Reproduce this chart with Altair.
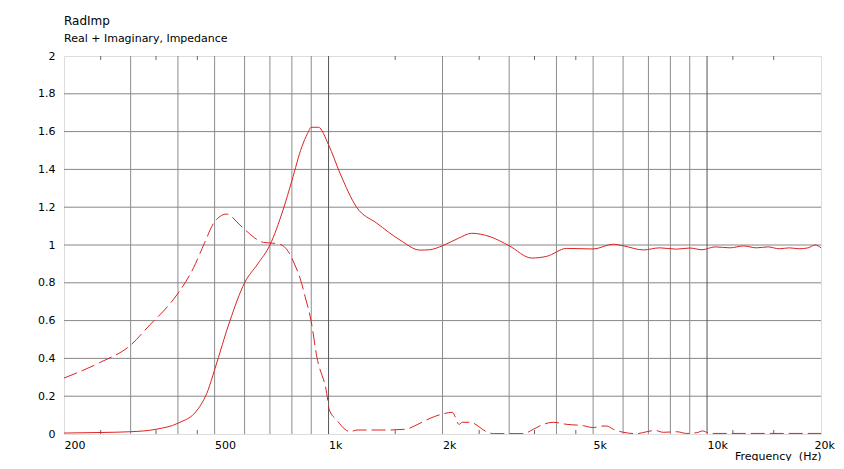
import altair as alt
import pandas as pd

# ---- data ----
real_freq = [200, 250, 300, 350, 400, 450, 480, 500, 549, 600, 650, 700, 758, 800, 850, 880,
             900, 940, 1000, 1072, 1186, 1340, 1545, 1744, 1850, 2000, 2200, 2388, 2671, 3000,
             3441, 3770, 4257, 5000, 5653, 6000, 6786, 7500, 8300, 9000, 9700, 10500, 11500,
             12500, 13500, 14500, 15500, 16500, 17500, 18500, 19300, 20000]
real_val = [0.005, 0.008, 0.012, 0.025, 0.057, 0.127, 0.23, 0.34, 0.60, 0.80, 0.90, 1.0, 1.185,
            1.34, 1.52, 1.59, 1.623, 1.623, 1.53, 1.38, 1.20, 1.116, 1.026, 0.973, 0.975, 0.996,
            1.035, 1.062, 1.044, 0.996, 0.931, 0.94, 0.982, 0.979, 1.004, 0.996, 0.974, 0.985,
            0.978, 0.984, 0.975, 0.99, 0.985, 0.995, 0.985, 0.99, 0.98, 0.985, 0.98, 0.985, 1.0,
            0.985]

imag_freq = [200, 250, 300, 337, 370, 400, 440, 470, 500, 538, 583, 610, 646, 673, 710, 744,
             783, 815, 841, 867, 900, 931, 989, 1005, 1051, 1105, 1139, 1189, 1400, 1592, 1744,
             1854, 2030, 2123, 2212, 2256, 2364, 2617, 2725, 3270, 3476, 3693, 3925, 4257, 4710,
             5000, 5268, 5433, 5653, 6010, 6520, 6928, 7284, 7664, 8311, 8833, 9390, 9738, 10180,
             20000]
imag_val = [0.296, 0.38, 0.47, 0.577, 0.66, 0.744, 0.88, 1.01, 1.123, 1.164, 1.106, 1.07, 1.03,
            1.014, 1.01, 1.004, 0.965, 0.894, 0.824, 0.727, 0.594, 0.409, 0.215, 0.127, 0.074,
            0.025, 0.012, 0.021, 0.021, 0.025, 0.057, 0.083, 0.109, 0.115, 0.051, 0.062, 0.062,
            0.012, 0.002, 0.002, 0.025, 0.051, 0.062, 0.051, 0.044, 0.034, 0.042, 0.042, 0.025,
            0.009, 0.002, 0.012, 0.019, 0.009, 0.012, 0.003, 0.007, 0.016, 0.003, 0.003]

x_labels = [200, 500, 1000, 2000, 5000, 10000, 20000]
y_ticks = [0, 0.2, 0.4, 0.6, 0.8, 1, 1.2, 1.4, 1.6, 1.8, 2]
grid_light = [300, 400, 500, 600, 700, 800, 900, 2000, 3000, 4000, 5000, 6000, 7000, 8000, 9000]
grid_dark = [1000, 10000]
grid_y = [0.2, 0.4, 0.6, 0.8, 1.0, 1.2, 1.4, 1.6, 1.8]
minor_ticks = [250, 350, 450, 1500, 2500, 3500, 4500, 11700, 15000]

FONT = "DejaVu Sans"
W, H = 757, 378
RED = "#dc2323"

xscale = alt.Scale(type="log", domain=[200, 20000], nice=False)
yscale = alt.Scale(domain=[0, 2], nice=False)

xaxis = alt.Axis(values=x_labels, grid=False, ticks=False, domain=False,
                 labelExpr="datum.value >= 1000 ? (datum.value/1000) + 'k' : '' + datum.value",
                 labelAlign="left", labelBaseline="top", labelPadding=5, labelFlush=False,
                 labelOffset={"condition": {"test": "datum.value >= 20000", "value": -7}, "value": 0},
                 labelOverlap=False, labelFont=FONT, labelFontSize=11, labelColor="#000000",
                 title="Frequency \u00a0(Hz)", titleFont=FONT, titleFontSize=11,
                 titleFontWeight="normal", titleColor="#000000", titleAnchor="end",
                 titleAlign="right", titleBaseline="alphabetic", titleX=W, titleY=25)
yaxis = alt.Axis(values=y_ticks, grid=False, ticks=False, domain=False, format=".1~f",
                 labelPadding=9, labelFont=FONT, labelFontSize=11, labelColor="#000000",
                 labelOverlap=False, labelFlush=False, title=None)

real_df = pd.DataFrame({"f": real_freq, "v": real_val})
imag_df = pd.DataFrame({"f": imag_freq, "v": imag_val})

hgrid = alt.Chart(pd.DataFrame({"y": grid_y})).mark_rule(color="#878787", strokeWidth=1).encode(
    y=alt.Y("y:Q", scale=yscale, axis=yaxis))
vlight = alt.Chart(pd.DataFrame({"f": grid_light})).mark_rule(color="#8c8c8c", strokeWidth=1).encode(
    x=alt.X("f:Q", scale=xscale, axis=xaxis))
vdark = alt.Chart(pd.DataFrame({"f": grid_dark})).mark_rule(color="#555555", strokeWidth=1).encode(
    x=alt.X("f:Q", scale=xscale, axis=xaxis))
tick_bot = alt.Chart(pd.DataFrame({"f": minor_ticks})).mark_rule(color="#666666").encode(
    x=alt.X("f:Q", scale=xscale, axis=xaxis), y=alt.value(H - 4), y2=alt.value(H))
tick_top = alt.Chart(pd.DataFrame({"f": minor_ticks})).mark_rule(color="#666666").encode(
    x=alt.X("f:Q", scale=xscale, axis=xaxis), y=alt.value(0), y2=alt.value(4))

real_line = alt.Chart(real_df).mark_line(color=RED, strokeWidth=1, clip=True,
                                         interpolate="monotone").encode(
    x=alt.X("f:Q", scale=xscale, axis=xaxis),
    y=alt.Y("v:Q", scale=yscale, axis=yaxis))
imag_line = alt.Chart(imag_df).mark_line(color=RED, strokeWidth=1, clip=True,
                                         strokeDash=[14, 5], interpolate="monotone").encode(
    x=alt.X("f:Q", scale=xscale, axis=xaxis),
    y=alt.Y("v:Q", scale=yscale, axis=yaxis))

chart = alt.layer(hgrid, vlight, vdark, tick_bot, tick_top, real_line, imag_line).properties(
    width=W, height=H,
    autosize=alt.AutoSizeParams(type="none"),
    padding={"left": 56, "top": 48, "right": 15, "bottom": 27},
    title=alt.TitleParams(text="RadImp", subtitle="Real + Imaginary, Impedance",
                          anchor="start", frame="group", font=FONT, fontSize=12,
                          fontWeight="normal", color="#000000", subtitleFont=FONT,
                          subtitleFontSize=11, subtitleColor="#000000", subtitlePadding=5,
                          offset=5),
).configure_view(stroke="#505050", strokeWidth=1).configure(background="white")

chart.save("out.html", embed_options={"renderer": "svg", "actions": False})
